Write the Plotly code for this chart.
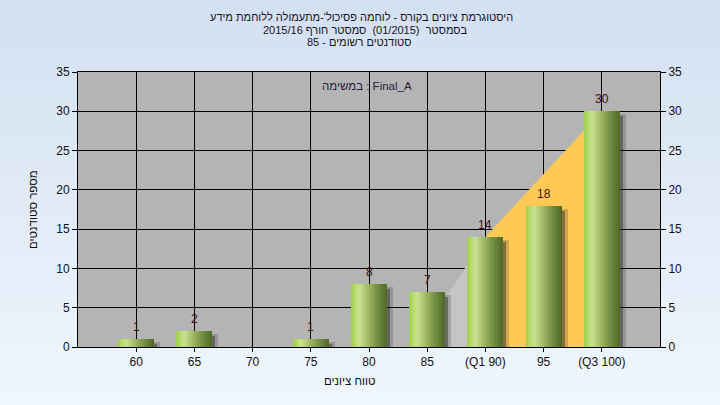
import plotly.graph_objects as go

# ---- data ----
categories = ["60", "65", "70", "75", "80", "85", "(Q1 90)", "95", "(Q3 100)"]
counts = [1, 2, 0, 1, 8, 7, 14, 18, 30]
# quartile band (x in category-index units, y in students)
low_band_x = [4.76, 6]
low_band_y = [0, 14]
iqr_band_x = [6, 8]
iqr_band_y = [14, 30]
y_ticks = [0, 5, 10, 15, 20, 25, 30, 35]

title_lines = [
    "היסטוגרמת ציונים בקורס - לוחמה פסיכול'-מתעמולה ללוחמת מידע",
    "בסמסטר  (01/2015)  סמסטר חורף 2015/16",
    "סטודנטים רשומים - 85",
]
x_title = "טווח ציונים"
y_title = "מספר סטודנטים"
task_note = "במשימה : Final_A"

FONT = "Liberation Sans, Arial, sans-serif"
W, H = 720, 405
ML, MR, MT, MB = 78, 60, 72, 58
PW, PH = W - ML - MR, H - MT - MB

def py2paper(py):
    return (H - MB - py) / PH

def px2paper(px):
    return (px - ML) / PW

xs = list(range(len(categories)))
fig = go.Figure()

fig.add_trace(go.Scatter(x=low_band_x, y=low_band_y, mode="lines", fill="tozeroy",
                         line=dict(width=0, color="rgba(0,0,0,0)"),
                         fillcolor="#c5c5c5", hoverinfo="skip", showlegend=False))
fig.add_trace(go.Scatter(x=iqr_band_x, y=iqr_band_y, mode="lines", fill="tozeroy",
                         line=dict(width=0, color="rgba(0,0,0,0)"),
                         fillcolor="#ffc956", hoverinfo="skip", showlegend=False))

bw = 0.62
px_unit_x = 1 / 58.2
px_unit_y = 35 / 275

for sw, alpha, dy in [(8, 0.22, 3), (5, 0.45, 5)]:
    fig.add_trace(go.Bar(x=xs, y=[max(v - dy * px_unit_y, 0) if v > 0 else 0 for v in counts],
                         xaxis="x2", yaxis="y3",
                         offset=bw / 2 - 2 * px_unit_x, width=sw * px_unit_x,
                         marker=dict(color=f"rgba(40,40,40,{alpha})", line=dict(width=0)),
                         hoverinfo="skip", showlegend=False))

stops = [(0.0, (160, 206, 70)), (0.22, (202, 226, 148)), (0.42, (170, 194, 112)),
         (0.65, (128, 155, 76)), (0.85, (98, 125, 54)), (1.0, (80, 104, 40))]

def col_at(t):
    for (t0, c0), (t1, c1) in zip(stops[:-1], stops[1:]):
        if t0 <= t <= t1:
            f = (t - t0) / (t1 - t0)
            return "rgb(%d,%d,%d)" % tuple(round(a + (b - a) * f) for a, b in zip(c0, c1))
    return "rgb(%d,%d,%d)" % stops[-1][1]

N = 18
sl = bw / N
for i in range(N):
    fig.add_trace(go.Bar(x=xs, y=counts, xaxis="x2", yaxis="y3",
                         offset=-bw / 2 + i * sl,
                         width=sl * (1.25 if i < N - 1 else 1.0),
                         marker=dict(color=col_at((i + 0.5) / N), line=dict(width=0)),
                         hoverinfo="skip", showlegend=False))

fig.add_trace(go.Scatter(x=[0], y=[0], yaxis="y2", mode="markers",
                         marker=dict(opacity=0), hoverinfo="skip", showlegend=False))

shapes = []
nstr = 40
x0p, x1p = -ML / PW, 1 + MR / PW
y0p, y1p = -MB / PH, 1 + MT / PH
top_c, bot_c = (211, 224, 241), (239, 246, 253)
for k in range(nstr):
    f0 = k / nstr
    f1 = (k + 1) / nstr
    f = (k + 0.5) / nstr
    c = tuple(round(a + (b - a) * f) for a, b in zip(top_c, bot_c))
    shapes.append(dict(type="rect", xref="paper", yref="paper", layer="below",
                       x0=x0p, x1=x1p, y0=y1p - (y1p - y0p) * f0 + 0.002,
                       y1=y1p - (y1p - y0p) * f1 - 0.002,
                       fillcolor="rgb(%d,%d,%d)" % c, line=dict(width=0)))
shapes.append(dict(type="rect", xref="paper", yref="paper", layer="below",
                   x0=0, x1=1, y0=0, y1=1, fillcolor="#b4b4b4", line=dict(width=0)))

axis_font = dict(family=FONT, size=12, color="#111111")

def ann(text, px, py, size, color, angle=0):
    return dict(text=text, xref="paper", yref="paper", x=px2paper(px), y=py2paper(py),
                xanchor="center", yanchor="middle", showarrow=False, textangle=angle,
                font=dict(family=FONT, size=size, color=color))

annotations = [
    ann(title_lines[0], 361, 17, 11, "#141428"),
    ann(title_lines[1], 365, 29.5, 11, "#141428"),
    ann(title_lines[2], 359, 42, 11, "#141428"),
    ann(task_note, 367, 86, 11.5, "#2a1a3a"),
    ann(x_title, 350, 381, 11.5, "#111111"),
    ann(y_title, 33, 210, 11.5, "#111111", angle=-90),
]
# value labels above bars
for x, v in zip(xs, counts):
    if v > 0:
        annotations.append(dict(text=str(v), xref="x2", yref="y3", x=x, y=v,
                                xanchor="center", yanchor="bottom", yshift=3, showarrow=False,
                                font=dict(family=FONT, size=12, color="#3a1212")))

fig.update_layout(
    width=W, height=H,
    margin=dict(l=ML, r=MR, t=MT, b=MB, autoexpand=False),
    paper_bgcolor="#e2ebf7", plot_bgcolor="rgba(0,0,0,0)",
    barmode="overlay", bargap=0,
    shapes=shapes,
    font=dict(family=FONT, size=12, color="#111111"),
    xaxis=dict(range=[-1, 9], tickmode="array", tickvals=xs, ticktext=categories,
               showgrid=True, gridcolor="#000000", gridwidth=1,
               showline=True, linecolor="#000000", linewidth=1, mirror=True,
               ticks="outside", ticklen=4, tickcolor="#000000",
               tickfont=axis_font, zeroline=False, automargin=False),
    xaxis2=dict(range=[-1, 9], overlaying="x", visible=False),
    yaxis=dict(range=[0, 35], tickvals=y_ticks,
               showgrid=True, gridcolor="#000000", gridwidth=1,
               showline=True, linecolor="#000000", linewidth=1,
               ticks="outside", ticklen=5, tickcolor="#000000",
               tickfont=axis_font, zeroline=False, automargin=False),
    yaxis2=dict(range=[0, 35], tickvals=y_ticks,
                overlaying="y", side="right", showgrid=False,
                showline=True, linecolor="#000000", linewidth=1,
                ticks="outside", ticklen=5, tickcolor="#000000",
                tickfont=axis_font, zeroline=False, automargin=False),
    yaxis3=dict(range=[0, 35], overlaying="y", visible=False),
    annotations=annotations,
)

fig.write_html("out.html", config={"displayModeBar": False},
               post_script="document.body.style.margin='0';")
